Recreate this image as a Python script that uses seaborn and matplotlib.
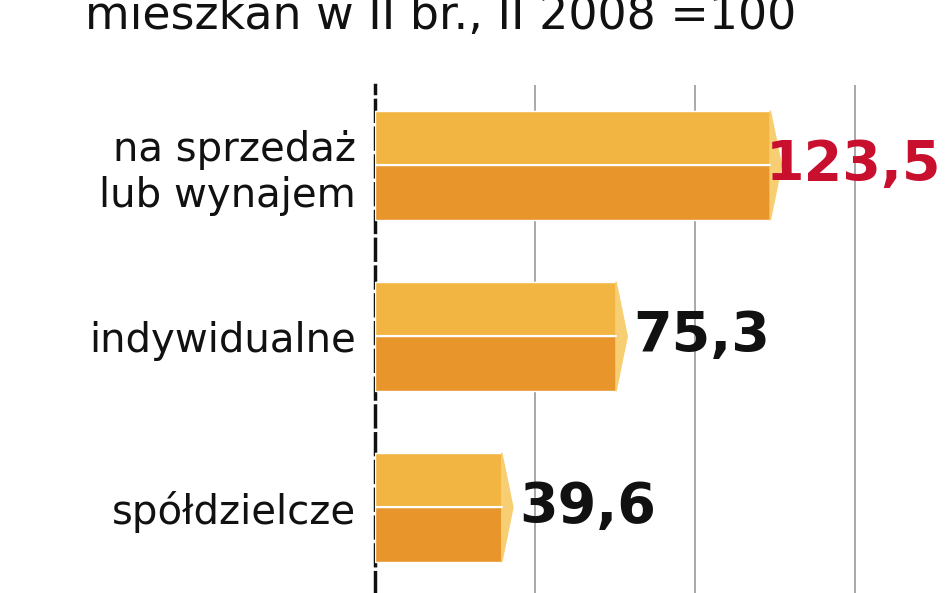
import matplotlib
matplotlib.use("Agg")
import matplotlib.pyplot as plt
import seaborn as sns
import pandas as pd
from matplotlib.patches import Polygon

categories = ["na sprzedaż\nlub wynajem", "indywidualne", "spółdzielcze"]
values = [123.5, 75.3, 39.6]
value_labels = ["123,5", "75,3", "39,6"]
label_colors = ["#C8102E", "#111111", "#111111"]
title = "mieszkań w II br., II 2008 =100"

sns.set_style("white")
plt.rcParams['font.family'] = ['DejaVu Sans']

fig = plt.figure(figsize=(9.48, 5.93), dpi=100)
ax = fig.add_axes([375/948, 0, 1 - 375/948, 1 - 85/593])
df = pd.DataFrame({"cat": categories, "val": values})
h = 0.64
sns.barplot(data=df, x="val", y="cat", color="#E8952B", width=h, ax=ax, saturation=1, zorder=3)
tip = 3.5
for i, v in enumerate(values):
    ax.barh(i - h/4, v, height=h/2, color="#F2B541", zorder=4)
    ax.plot([0, v], [i, i], color="white", lw=1.5, zorder=5)
    ax.add_patch(Polygon([(v, i - h/2), (v + tip, i), (v, i + h/2)],
                         closed=True, color="#F7CE72", zorder=4))
    if i == 0:
        ax.text(177, i, value_labels[i], color=label_colors[i], fontsize=40,
                fontweight="bold", va="center", ha="right", zorder=6)
    else:
        ax.text(v + tip + 2, i, value_labels[i], color=label_colors[i], fontsize=40,
                fontweight="bold", va="center", ha="left", zorder=6)
ax.set_xlim(0, 179)
ax.set_ylim(2.5, -0.47)
ax.set_xticks([50, 100, 150])
ax.xaxis.grid(True, color="#999999", lw=1.2)
ax.set_axisbelow(True)
ax.set_xticklabels([])
ax.tick_params(axis="x", length=6, color="#333333", bottom=True)
ax.set_yticks(range(3))
ax.set_yticklabels(categories, fontsize=29, linespacing=1.2, color="#111111")
ax.tick_params(axis="y", length=0, pad=14)
for s in ["top", "right", "bottom"]:
    ax.spines[s].set_visible(False)
ax.spines["left"].set_color("#111111")
ax.spines["left"].set_linewidth(2.5)
ax.spines["left"].set_linestyle((0, (6, 2)))
ax.set_xlabel("")
ax.set_ylabel("")
fig.text(0.09, 1.01, title, fontsize=33, va="top", ha="left", color="#111111")
fig.savefig("out.png", dpi=100)
